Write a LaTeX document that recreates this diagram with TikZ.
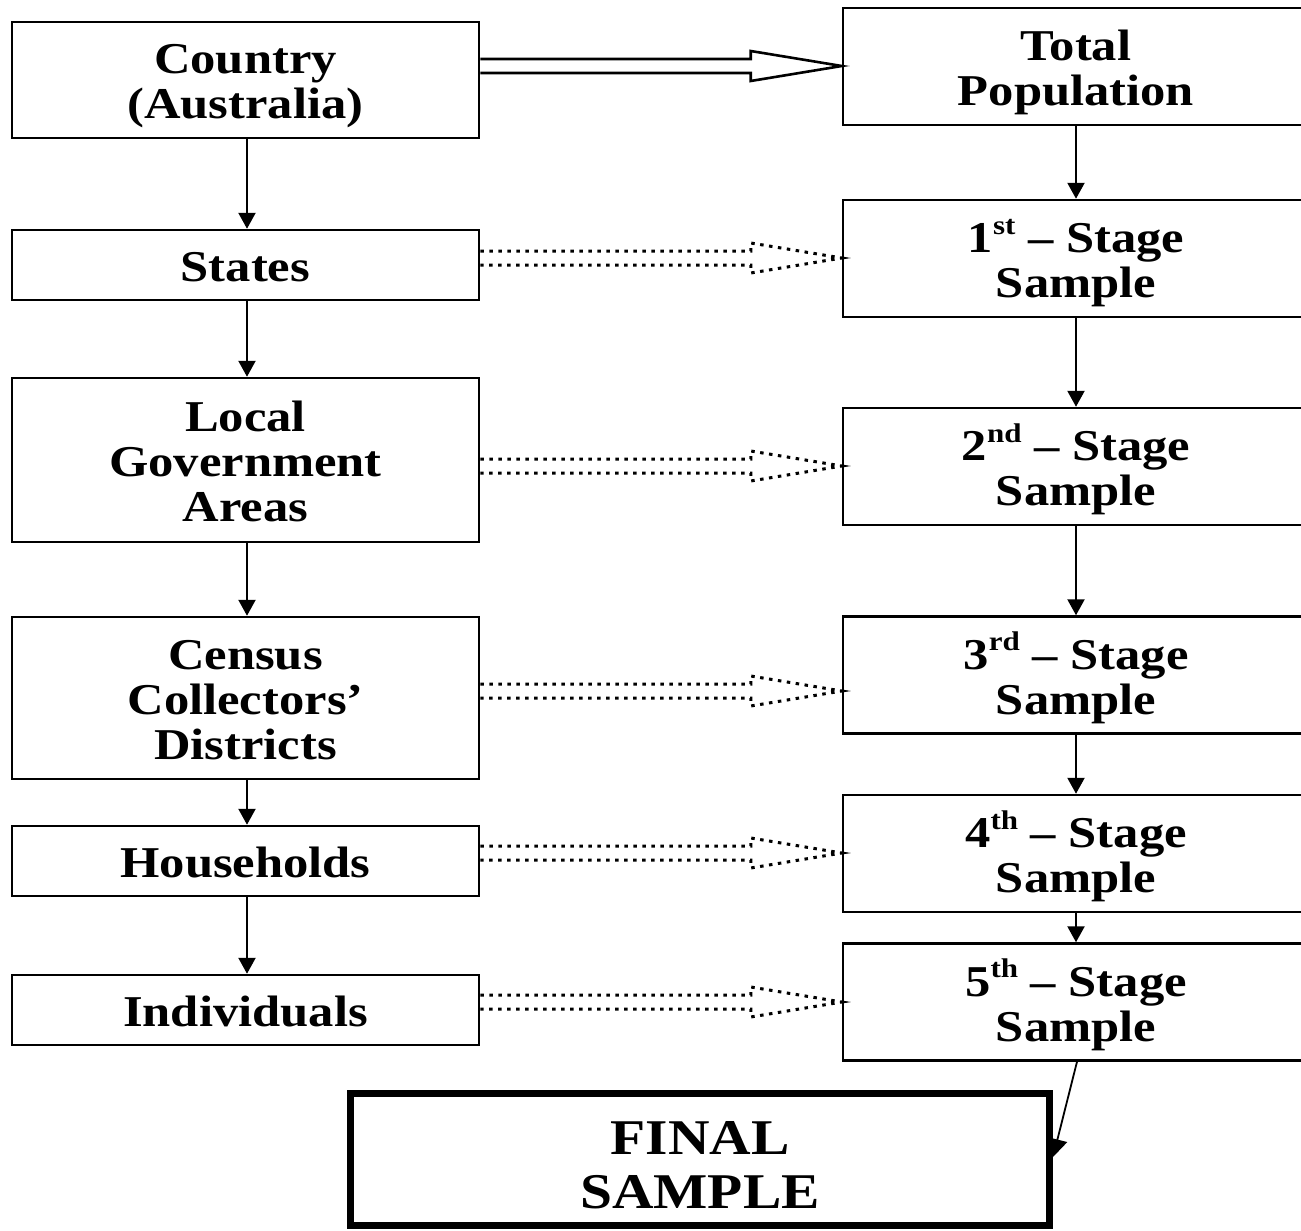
\documentclass[tikz,border=0pt]{standalone}
\usepackage{fontspec}
\setmainfont{Liberation Serif}[FakeStretch=1.15]
\usetikzlibrary{arrows.meta,calc}
\newcommand\sups[1]{\raisebox{0.42em}{\fontsize{27}{27}\selectfont #1}}
\newcommand\tx[1]{\begin{tabular}[t]{@{}c@{}}#1\end{tabular}}
\newcommand\holarrow[4]{%
  \path (#1.east |- 0,#3) coordinate (hs) (#2.west |- 0,#3) coordinate (ht);
  \draw[#4] ($(hs)+(0,-7)$) -- ($(ht)+(-91,-7)$) -- ($(ht)+(-91,-15)$) -- (ht)
    -- ($(ht)+(-91,15)$) -- ($(ht)+(-91,7)$) -- ($(hs)+(0,7)$);}
\begin{document}
\begin{tikzpicture}[x=1pt,y=-1pt,
  box/.style={draw, line width=2.5pt, inner sep=0pt,
    font=\fontsize{44}{45}\selectfont\bfseries, text height=33pt, text depth=0pt},
  two/.style={text depth=45pt},
  three/.style={text depth=90pt},
  lbox/.style={box, minimum width=467pt},
  rbox/.style={box, two, minimum width=466pt, minimum height=117pt},
  vline/.style={line width=2.3pt, -{Triangle[length=16pt,width=17pt]}},
  solidhol/.style={line width=2.6pt, line join=miter},
  dothol/.style={line width=3pt, dash pattern=on 3.5pt off 5.5pt}
]
\useasboundingbox[fill=white] (0,0) rectangle (1301,1231);
% left column
\node[lbox, two, minimum height=116pt] (country) at (245.5,80) {\tx{Country\\(Australia)}};
\node[lbox, minimum height=70pt] (states) at (245.5,265) {\tx{States}};
\node[lbox, three, minimum height=164pt] (lga) at (245.5,460) {\tx{Local\\Government\\Areas}};
\node[lbox, three, minimum height=162pt] (census) at (245.5,698) {\tx{Census\\Collectors’\\Districts}};
\node[lbox, minimum height=70pt] (house) at (245.5,861) {\tx{Households}};
\node[lbox, minimum height=70pt] (indiv) at (245.5,1010) {\tx{Individuals}};
% right column
\node[rbox] (tp) at (1076,66.5) {\tx{Total\\Population}};
\node[rbox] (s1) at (1076,258.5) {\tx{1\sups{st} -- Stage\\Sample}};
\node[rbox] (s2) at (1076,466.5) {\tx{2\sups{nd} -- Stage\\Sample}};
\node[rbox] (s3) at (1076,675) {\tx{3\sups{rd} -- Stage\\Sample}};
\node[rbox] (s4) at (1076,853.5) {\tx{4\sups{th} -- Stage\\Sample}};
\node[rbox] (s5) at (1076,1002) {\tx{5\sups{th} -- Stage\\Sample}};
% final
\node[draw, line width=7pt, minimum width=699pt, minimum height=132pt, inner sep=0pt,
  font=\fontsize{50}{54}\selectfont\bfseries, text height=43pt, text depth=54pt]
  (final) at (700,1159.5) {\tx{FINAL\\SAMPLE}};
% vertical arrows left
\draw[vline] (country.south -| 247,0) -- (states.north -| 247,0);
\draw[vline] (states.south -| 247,0) -- (lga.north -| 247,0);
\draw[vline] (lga.south -| 247,0) -- (census.north -| 247,0);
\draw[vline] (census.south -| 247,0) -- (house.north -| 247,0);
\draw[vline] (house.south -| 247,0) -- (indiv.north -| 247,0);
% vertical arrows right
\draw[vline] (tp) -- (s1);
\draw[vline] (s1) -- (s2);
\draw[vline] (s2) -- (s3);
\draw[vline] (s3) -- (s4);
\draw[vline] (s4) -- (s5);
\draw[line width=1.8pt, -{Triangle[length=18pt,width=20pt]}] (s5.south -| 1077,0) -- (final.east |- 0,1157);
% hollow arrows
\holarrow{country}{tp}{66}{solidhol}
\holarrow{states}{s1}{258}{dothol}
\holarrow{lga}{s2}{466}{dothol}
\holarrow{census}{s3}{691}{dothol}
\holarrow{house}{s4}{853}{dothol}
\holarrow{indiv}{s5}{1002}{dothol}
\end{tikzpicture}
\end{document}
